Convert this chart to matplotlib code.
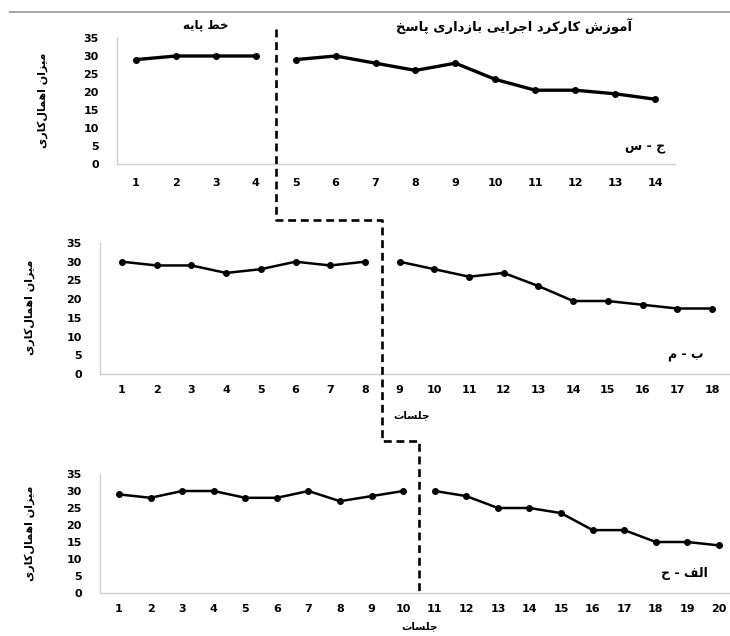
import matplotlib
matplotlib.use("Agg")
import matplotlib.pyplot as plt
from matplotlib.lines import Line2D

# ---------------- data ----------------
top_base_x = [1, 2, 3, 4]
top_base_y = [29, 30, 30, 30]
top_treat_x = [5, 6, 7, 8, 9, 10, 11, 12, 13, 14]
top_treat_y = [29, 30, 28, 26, 28, 23.5, 20.5, 20.5, 19.5, 18]
top_ticks = [1, 2, 3, 4, 5, 6, 7, 8, 9, 10, 11, 12, 13, 14]

mid_base_x = [1, 2, 3, 4, 5, 6, 7, 8]
mid_base_y = [30, 29, 29, 27, 28, 30, 29, 30]
mid_treat_x = [9, 10, 11, 12, 13, 14, 15, 16, 17, 18]
mid_treat_y = [30, 28, 26, 27, 23.5, 19.5, 19.5, 18.5, 17.5, 17.5]
mid_ticks = [1, 2, 3, 4, 5, 6, 7, 8, 9, 10, 11, 12, 13, 14, 15, 16, 17, 18]

bot_base_x = [1, 2, 3, 4, 5, 6, 7, 8, 9, 10]
bot_base_y = [29, 28, 30, 30, 28, 28, 30, 27, 28.5, 30]
bot_treat_x = [11, 12, 13, 14, 15, 16, 17, 18, 19, 20]
bot_treat_y = [30, 28.5, 25, 25, 23.5, 18.5, 18.5, 15, 15, 14]
bot_ticks = [1, 2, 3, 4, 5, 6, 7, 8, 9, 10, 11, 12, 13, 14, 15, 16, 17, 18, 19, 20]

y_ticks = [0, 5, 10, 15, 20, 25, 30, 35]
phase_changes = [4.5, 8.5, 10.5]

title_baseline = "خط پایه"
title_treatment = "آموزش کارکرد اجرایی بازداری پاسخ"
y_label = "میزان اهمال‌کاری"
x_label = "جلسات"
panel_labels = ["ج - س", "ب - م", "الف - ح"]

# ---------------- simple Arabic-script shaping ----------------
FORMS = {
    'ا': ('\uFE8D', '\uFE8E', None, None),
    'آ': ('\uFE81', '\uFE82', None, None),
    'ب': ('\uFE8F', '\uFE90', '\uFE91', '\uFE92'),
    'پ': ('\uFB56', '\uFB57', '\uFB58', '\uFB59'),
    'ت': ('\uFE95', '\uFE96', '\uFE97', '\uFE98'),
    'ج': ('\uFE9D', '\uFE9E', '\uFE9F', '\uFEA0'),
    'ح': ('\uFEA1', '\uFEA2', '\uFEA3', '\uFEA4'),
    'خ': ('\uFEA5', '\uFEA6', '\uFEA7', '\uFEA8'),
    'د': ('\uFEA9', '\uFEAA', None, None),
    'ر': ('\uFEAD', '\uFEAE', None, None),
    'ز': ('\uFEAF', '\uFEB0', None, None),
    'س': ('\uFEB1', '\uFEB2', '\uFEB3', '\uFEB4'),
    'ش': ('\uFEB5', '\uFEB6', '\uFEB7', '\uFEB8'),
    'ط': ('\uFEC1', '\uFEC2', '\uFEC3', '\uFEC4'),
    'ف': ('\uFED1', '\uFED2', '\uFED3', '\uFED4'),
    'ک': ('\uFB8E', '\uFB8F', '\uFB90', '\uFB91'),
    'ل': ('\uFEDD', '\uFEDE', '\uFEDF', '\uFEE0'),
    'م': ('\uFEE1', '\uFEE2', '\uFEE3', '\uFEE4'),
    'ن': ('\uFEE5', '\uFEE6', '\uFEE7', '\uFEE8'),
    'ه': ('\uFEE9', '\uFEEA', '\uFEEB', '\uFEEC'),
    'و': ('\uFEED', '\uFEEE', None, None),
    'ی': ('\uFBFC', '\uFBFD', '\uFBFE', '\uFBFF'),
}


def shape(s):
    out = []
    n = len(s)
    for i, c in enumerate(s):
        if c not in FORMS:
            out.append(c)
            continue
        prev = s[i - 1] if i > 0 else ''
        nxt = s[i + 1] if i + 1 < n else ''
        jp = prev in FORMS and FORMS[prev][2] is not None
        jn = FORMS[c][2] is not None and nxt in FORMS
        iso, fin, ini, med = FORMS[c]
        if jp and jn:
            out.append(med)
        elif jp:
            out.append(fin)
        elif jn:
            out.append(ini)
        else:
            out.append(iso)
    out = [ch for ch in out if ch != '\u200c']
    return ''.join(reversed(out))


plt.rcParams['font.family'] = ['DejaVu Sans']

W, H = 730, 636
fig = plt.figure(figsize=(W / 100, H / 100), dpi=100)
fig.patch.set_facecolor('white')


def px(x0, y_top, x1, y_bot):
    return [x0 / W, 1 - y_bot / H, (x1 - x0) / W, (y_bot - y_top) / H]


ax_top = fig.add_axes(px(117, 38, 675, 164))
ax_mid = fig.add_axes(px(100, 243, 730, 374))
ax_bot = fig.add_axes(px(100, 474, 730, 593))

panels = [
    (ax_top, top_base_x, top_base_y, top_treat_x, top_treat_y, top_ticks, (0.524, 14.5), 2.4, 10),
    (ax_mid, mid_base_x, mid_base_y, mid_treat_x, mid_treat_y, mid_ticks, (0.366, 18.52), 1.8, 8),
    (ax_bot, bot_base_x, bot_base_y, bot_treat_x, bot_treat_y, bot_ticks, (0.40, 20.35), 1.8, 8),
]

for ax, bx, by, tx, ty, ticks, xlim, lw, xpad in panels:
    ax.plot(bx, by, color='black', lw=lw, marker='o', ms=4, zorder=3)
    ax.plot(tx, ty, color='black', lw=lw, marker='o', ms=4, zorder=3)
    ax.set_xlim(*xlim)
    ax.set_ylim(0, 35)
    ax.set_xticks(ticks)
    ax.set_xticklabels([str(t) for t in ticks])
    ax.set_yticks(y_ticks)
    ax.tick_params(axis='both', length=0, labelsize=8)
    ax.tick_params(axis='y', pad=13)
    ax.tick_params(axis='x', pad=xpad)
    for lab in ax.get_xticklabels() + ax.get_yticklabels():
        lab.set_fontweight('bold')
    for side in ('top', 'right'):
        ax.spines[side].set_visible(False)
    for side in ('left', 'bottom'):
        ax.spines[side].set_color('#cfcfcf')
        ax.spines[side].set_linewidth(1.0)
    ax.set_facecolor('none')

# ---------------- phase-change connector ----------------
inv = fig.transFigure.inverted()


def fx(ax, xval):
    return inv.transform(ax.transData.transform((xval, 0)))[0]


def fy(ax, yval):
    return inv.transform(ax.transData.transform((1, yval)))[1]


x1 = fx(ax_top, phase_changes[0])
x2 = fx(ax_mid, phase_changes[1])
x3 = fx(ax_bot, phase_changes[2])
y_start = 1 - 29 / H
y_step1 = 1 - 220 / H
y_step2 = 1 - 441 / H
y_end = fy(ax_bot, 0)

conn = Line2D([x1, x1, x2, x2, x3, x3],
              [y_start, y_step1, y_step1, y_step2, y_step2, y_end],
              transform=fig.transFigure, color='black', lw=1.9,
              linestyle=(0, (3.0, 1.8)), zorder=5)
fig.add_artist(conn)

# faint border line at top of the page
fig.add_artist(Line2D([10 / W, 1.0], [1 - 12 / H, 1 - 12 / H], transform=fig.transFigure,
                      color='#a8a8a8', lw=1.5))

# ---------------- texts ----------------
fig.text(206 / W, 1 - 25 / H, shape(title_baseline), ha='center', va='center',
         fontsize=8.5, fontweight='bold')
fig.text(514 / W, 1 - 26 / H, shape(title_treatment), ha='center', va='center',
         fontsize=9.5, fontweight='bold')

fig.text(43 / W, 1 - 100 / H, shape(y_label), rotation=90, ha='center', va='center',
         fontsize=8, fontweight='bold')
fig.text(30 / W, 1 - 307 / H, shape(y_label), rotation=90, ha='center', va='center',
         fontsize=8, fontweight='bold')
fig.text(30 / W, 1 - 533 / H, shape(y_label), rotation=90, ha='center', va='center',
         fontsize=8, fontweight='bold')

fig.text(665 / W, 1 - 147 / H, shape(panel_labels[0]), ha='right', va='center',
         fontsize=9, fontweight='bold')
fig.text(703 / W, 1 - 356 / H, shape(panel_labels[1]), ha='right', va='center',
         fontsize=9, fontweight='bold')
fig.text(708 / W, 1 - 573 / H, shape(panel_labels[2]), ha='right', va='center',
         fontsize=9, fontweight='bold')

fig.text(412 / W, 1 - 415 / H, shape(x_label), ha='center', va='center',
         fontsize=7.5, fontweight='bold')
fig.text(420 / W, 1 - 626 / H, shape(x_label), ha='center', va='center',
         fontsize=7.5, fontweight='bold')

fig.savefig('out.png', dpi=100, facecolor='white')
